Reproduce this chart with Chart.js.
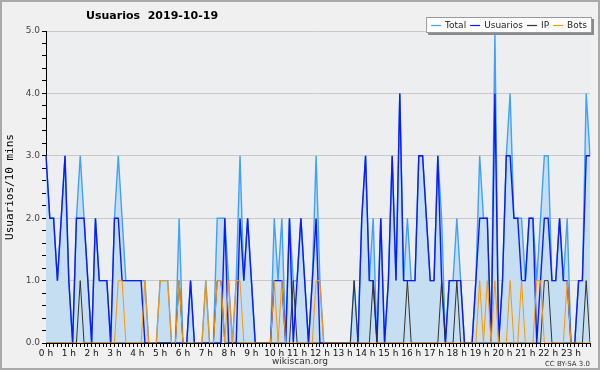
<!DOCTYPE html>
<html>
<head>
<meta charset="utf-8">
<script src="https://cdn.jsdelivr.net/npm/chart.js@4.4.0/dist/chart.umd.min.js"></script>
<style>
  html, body { margin: 0; padding: 0; background: #f0f0f0; }
  canvas { display: block; }
</style>
</head>
<body>
<canvas id="chart-0" width="600" height="370"></canvas>
<script>
var chartTitle = "Usuarios  2019-10-19";
var yTitle = "Usuarios/10 mins";
var footLeft = "wikiscan.org";
var footRight = "CC BY-SA 3.0";

var hourLabels = ["0 h", "1 h", "2 h", "3 h", "4 h", "5 h", "6 h", "7 h", "8 h", "9 h", "10 h", "11 h",
  "12 h", "13 h", "14 h", "15 h", "16 h", "17 h", "18 h", "19 h", "20 h", "21 h", "22 h", "23 h"];
var yTicks = [0, 1, 2, 3, 4, 5];

// one value every 10 minutes, 6 per hour
var total = [
  3, 2, 2, 1, 2, 3,   1, 0, 2, 3, 2, 1,   0, 2, 1, 1, 1, 0,   2, 3, 2, 1, 1, 1,
  1, 1, 1, 0, 0, 0,   1, 1, 1, 0, 0, 2,   0, 0, 1, 0, 0, 0,   1, 0, 0, 2, 2, 2,
  1, 0, 1, 3, 1, 2,   1, 0, 0, 0, 0, 0,   2, 1, 2, 0, 2, 1,   1, 2, 1, 0, 1, 3,
  1, 0, 0, 0, 0, 0,   0, 0, 0, 1, 0, 2,   3, 1, 2, 0, 2, 0,   1, 3, 1, 4, 1, 2,
  1, 1, 3, 3, 2, 1,   1, 3, 2, 0, 1, 1,   2, 1, 0, 0, 0, 1,   3, 2, 2, 0, 5, 0,
  1, 3, 4, 2, 2, 2,   1, 2, 2, 1, 2, 3,   3, 1, 1, 2, 1, 2,   0, 0, 1, 1, 4, 3
];
var usuarios = [
  3, 2, 2, 1, 2, 3,   1, 0, 2, 2, 2, 1,   0, 2, 1, 1, 1, 0,   2, 2, 1, 1, 1, 1,
  1, 1, 0, 0, 0, 0,   0, 0, 0, 0, 0, 0,   0, 0, 1, 0, 0, 0,   0, 0, 0, 0, 0, 2,
  0, 0, 0, 2, 1, 2,   1, 0, 0, 0, 0, 0,   1, 1, 1, 0, 2, 0,   1, 2, 1, 0, 1, 2,
  0, 0, 0, 0, 0, 0,   0, 0, 0, 0, 0, 2,   3, 1, 1, 0, 2, 0,   1, 3, 1, 4, 1, 1,
  1, 1, 3, 3, 2, 1,   1, 3, 1, 0, 1, 1,   1, 1, 0, 0, 0, 1,   2, 2, 2, 0, 4, 0,
  1, 3, 3, 2, 2, 1,   1, 2, 2, 0, 1, 2,   2, 1, 1, 2, 1, 1,   0, 0, 1, 1, 3, 3
];
var ip = [
  0, 0, 0, 0, 0, 0,   0, 0, 0, 1, 0, 0,   0, 0, 0, 0, 0, 0,   0, 0, 0, 0, 0, 0,
  0, 0, 0, 0, 0, 0,   0, 0, 0, 0, 0, 1,   0, 0, 0, 0, 0, 0,   0, 0, 0, 1, 1, 0,
  0, 0, 0, 0, 0, 0,   0, 0, 0, 0, 0, 0,   0, 0, 0, 0, 0, 1,   0, 0, 0, 0, 0, 0,
  0, 0, 0, 0, 0, 0,   0, 0, 0, 1, 0, 0,   0, 0, 1, 0, 0, 0,   0, 0, 0, 0, 0, 1,
  0, 0, 0, 0, 0, 0,   0, 0, 1, 0, 0, 0,   1, 0, 0, 0, 0, 0,   0, 0, 0, 0, 0, 0,
  0, 0, 0, 0, 0, 0,   0, 0, 0, 0, 0, 1,   1, 0, 0, 0, 0, 0,   0, 0, 0, 0, 1, 0
];
var bots = [
  0, 0, 0, 0, 0, 0,   0, 0, 0, 0, 0, 0,   0, 0, 0, 0, 0, 0,   0, 1, 1, 0, 0, 0,
  0, 0, 1, 0, 0, 0,   1, 1, 1, 0, 0, 1,   0, 0, 0, 0, 0, 0,   1, 0, 0, 1, 1, 0,
  1, 0, 1, 1, 0, 0,   0, 0, 0, 0, 0, 0,   1, 0, 1, 0, 0, 0,   0, 0, 0, 0, 0, 1,
  1, 0, 0, 0, 0, 0,   0, 0, 0, 0, 0, 0,   0, 0, 0, 0, 0, 0,   0, 0, 0, 0, 0, 0,
  0, 0, 0, 0, 0, 0,   0, 0, 0, 0, 0, 0,   0, 0, 0, 0, 0, 0,   1, 0, 1, 0, 1, 0,
  0, 0, 1, 0, 0, 1,   0, 0, 0, 1, 1, 0,   0, 0, 0, 0, 0, 1,   0, 0, 0, 0, 0, 0
];

/* 144 slots of 10 minutes */
var slots = [];
for (var h = 0; h < 24; h++) {
  for (var m = 0; m < 6; m++) {
    slots.push(h + ":" + m + "0");
  }
}

/* background, title, legend and footer */
var decor = {
  id: "decor",
  beforeDraw: function (chart) {
    var ctx = chart.ctx;
    var a = chart.chartArea;
    ctx.save();
    ctx.fillStyle = "#f0f0f0";
    ctx.fillRect(0, 0, chart.width, chart.height);
    ctx.strokeStyle = "#a9a9a9";
    ctx.lineWidth = 2;
    ctx.strokeRect(1, 1, chart.width - 2, chart.height - 2);
    ctx.fillStyle = "#edeef0";
    ctx.fillRect(a.left, a.top, a.right - a.left, a.bottom - a.top);
    ctx.restore();
  },
  afterDraw: function (chart) {
    var ctx = chart.ctx;
    ctx.save();
    ctx.fillStyle = "#000";
    ctx.textBaseline = "middle";
    ctx.font = "bold 11px 'DejaVu Sans'";
    ctx.fillText(chartTitle, 86, 16);

    // legend box
    ctx.font = "9px 'DejaVu Sans'";
    var sets = chart.data.datasets;
    var w = 6;
    for (var i = 0; i < sets.length; i++) {
      w += 10 + 4 + ctx.measureText(sets[i].label).width + 4;
    }
    var right = 592, top = 17, bh = 16;
    var left = right - w;
    ctx.fillStyle = "#8a8a8a";
    ctx.fillRect(left + 2, top + 2, w, bh);
    ctx.fillStyle = "#fff";
    ctx.fillRect(left, top, w, bh);
    ctx.strokeStyle = "#9a9a9a";
    ctx.lineWidth = 1;
    ctx.strokeRect(left + 0.5, top + 0.5, w - 1, bh - 1);
    var x = left + 5;
    for (var j = 0; j < sets.length; j++) {
      ctx.strokeStyle = sets[j].borderColor;
      ctx.lineWidth = 1.2;
      ctx.beginPath();
      ctx.moveTo(x, top + bh / 2 + 0.5);
      ctx.lineTo(x + 10, top + bh / 2 + 0.5);
      ctx.stroke();
      x += 10 + 4;
      ctx.fillStyle = "#222";
      ctx.fillText(sets[j].label, x, top + bh / 2 + 1);
      x += ctx.measureText(sets[j].label).width + 4;
    }

    ctx.fillStyle = "#333";
    ctx.textAlign = "center";
    ctx.font = "9px 'DejaVu Sans'";
    ctx.fillText(footLeft, 300, 362);
    ctx.textAlign = "right";
    ctx.font = "7px 'DejaVu Sans'";
    ctx.fillText(footRight, 590, 364);
    ctx.restore();
  }
};

var ctx0 = document.getElementById("chart-0");
var myChart = new Chart(ctx0, {
  type: "line",
  data: {
    labels: slots,
    datasets: [
      {
        label: "Total",
        data: total,
        borderColor: "rgb(64, 160, 250)",
        backgroundColor: "rgba(197, 222, 241, 1)",
        borderWidth: 1.4,
        fill: "origin",
        order: 4
      },
      {
        label: "Usuarios",
        data: usuarios,
        borderColor: "rgb(10, 25, 255)",
        borderWidth: 1.4,
        fill: false,
        order: 3
      },
      {
        label: "IP",
        data: ip,
        borderColor: "rgb(50, 50, 50)",
        borderWidth: 1,
        fill: false,
        order: 2
      },
      {
        label: "Bots",
        data: bots,
        borderColor: "rgb(255, 150, 0)",
        borderWidth: 1,
        fill: false,
        order: 1
      }
    ]
  },
  options: {
    responsive: false,
    animation: false,
    devicePixelRatio: 1,
    layout: { padding: { top: 31, right: 10, bottom: 0, left: 0 } },
    elements: { point: { radius: 0 }, line: { tension: 0 } },
    plugins: {
      legend: { display: false },
      title: { display: false },
      tooltip: { enabled: false }
    },
    scales: {
      x: {
        type: "category",
        offset: false,
        afterFit: function (scale) { scale.height = 27; },
        border: { display: true, color: "#000", width: 1 },
        grid: { drawOnChartArea: false, drawTicks: true, tickLength: 4, tickColor: "#000" },
        ticks: {
          autoSkip: false,
          maxRotation: 0,
          minRotation: 0,
          padding: 1,
          color: "#111",
          font: { family: "DejaVu Sans", size: 9 },
          callback: function (val, index) {
            return index % 6 === 0 ? hourLabels[index / 6] : "";
          }
        }
      },
      y: {
        min: yTicks[0],
        max: yTicks[yTicks.length - 1],
        afterFit: function (scale) { scale.width = 46; },
        border: { display: true, color: "#000", width: 1 },
        grid: {
          drawTicks: true,
          tickLength: 4,
          tickColor: "#000",
          color: function (c) {
            var v = c.tick ? c.tick.value : 0;
            return Math.abs(v - Math.round(v)) < 1e-6 ? "#c9c9c9" : "rgba(0,0,0,0)";
          }
        },
        ticks: {
          stepSize: 0.2,
          autoSkip: false,
          padding: 2,
          color: "#444",
          font: { family: "DejaVu Sans", size: 9 },
          callback: function (v) {
            return Math.abs(v - Math.round(v)) < 1e-6 ? Number(v).toFixed(1) : "";
          }
        },
        title: {
          display: true,
          text: yTitle,
          color: "#000",
          font: { family: "DejaVu Sans Mono", size: 11 },
          padding: { top: 4, bottom: 0 }
        }
      }
    }
  },
  plugins: [decor]
});
</script>
</body>
</html>
